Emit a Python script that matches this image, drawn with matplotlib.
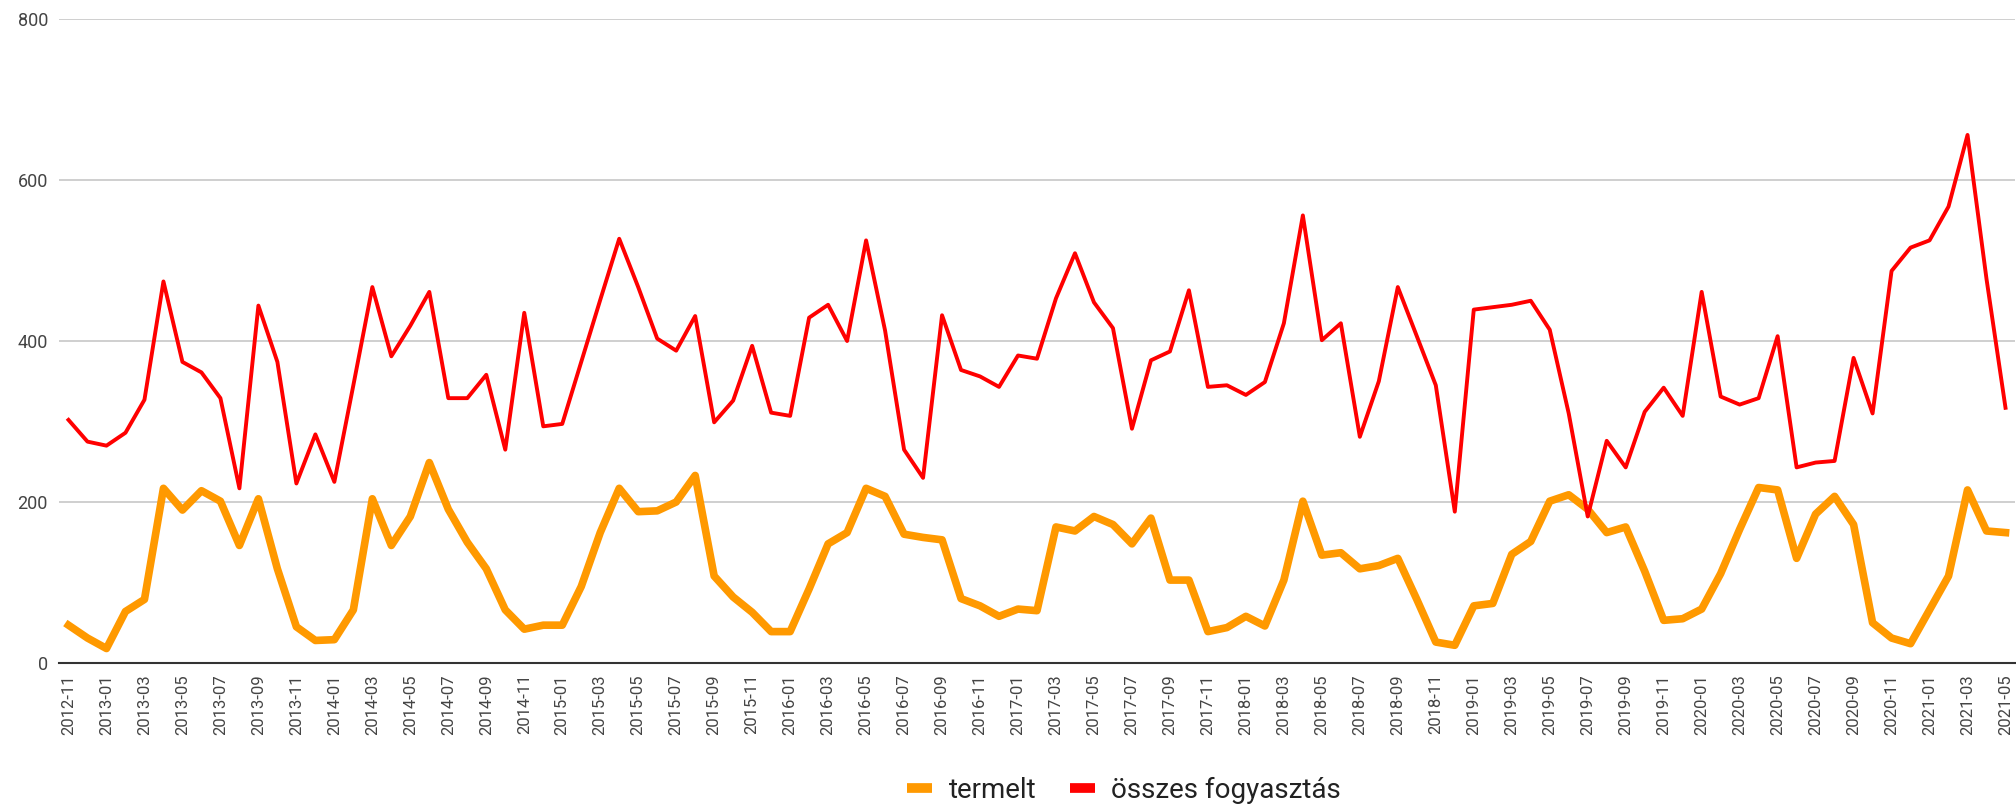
# -*- coding: utf-8 -*-
#%% Monthly production vs. total consumption (line chart)
from matplotlib import pyplot as plt
import numpy as np
import pandas as pd

plt.rcParams['font.family'] = ['Roboto', 'DejaVu Sans']

#%% Data
months = list(pd.period_range('2012-11', '2021-05', freq='M').strftime('%Y-%m'))

termelt = [47, 31,
           18, 64, 79, 217, 190, 214, 201, 146, 204, 117, 45, 28,
           29, 66, 204, 146, 182, 249, 191, 150, 117, 66, 42, 47,
           47, 95, 162, 217, 188, 189, 200, 233, 108, 82, 63, 39,
           39, 92, 148, 162, 217, 207, 160, 156, 153, 80, 71, 58,
           67, 65, 169, 164, 182, 172, 148, 180, 103, 103, 39, 44,
           58, 46, 103, 201, 134, 137, 117, 121, 130, 79, 26, 22,
           71, 74, 135, 151, 201, 209, 191, 162, 169, 114, 53, 55,
           67, 111, 166, 218, 215, 130, 185, 207, 172, 50, 31, 24,
           66, 108, 215, 164, 162]

osszes = [302, 275,
          270, 286, 327, 474, 374, 361, 329, 217, 444, 374, 223, 284,
          225, 345, 467, 381, 419, 461, 329, 329, 358, 265, 435, 294,
          297, 374, 451, 527, 467, 403, 388, 431, 299, 326, 394, 311,
          307, 429, 445, 400, 525, 413, 265, 230, 432, 364, 356, 343,
          382, 378, 453, 509, 448, 416, 291, 376, 387, 463, 343, 345,
          333, 349, 422, 556, 401, 422, 281, 350, 467, 406, 345, 188,
          439, 442, 445, 450, 414, 310, 182, 276, 243, 312, 342, 307,
          461, 331, 321, 329, 406, 243, 249, 251, 379, 310, 487, 516,
          525, 567, 656, 477, 317]

series_names = ['termelt', 'összes fogyasztás']
y_ticks = [0, 200, 400, 600, 800]

#%% Plot
W, H = 2016, 811
fig = plt.figure(figsize=(W / 100, H / 100), dpi=100)
ax = fig.add_axes([59 / W, 1 - 663 / H, (2015 - 59) / W, (663 - 19) / H])

x = np.arange(len(months))
ax.plot(x, termelt, color='#ff9900', lw=5.5, label=series_names[0], zorder=3)
ax.plot(x, osszes, color='#ff0000', lw=2.8, label=series_names[1], zorder=4)

ax.set_xlim(-0.5, len(months) - 0.5)
ax.set_ylim(0, 800)
ax.set_yticks(y_ticks)
ax.set_yticklabels([str(v) for v in y_ticks], fontsize=13, color='#444444')
ax.set_xticks(x[::2])
ax.set_xticklabels(months[::2], rotation=90, fontsize=12, color='#444444')
ax.tick_params(axis='both', length=0)
ax.tick_params(axis='y', pad=8)
ax.tick_params(axis='x', pad=8)

ax.yaxis.grid(True, color='#cccccc', lw=1.3)
ax.set_axisbelow(True)
for s in ['top', 'right', 'left']:
    ax.spines[s].set_visible(False)
ax.spines['bottom'].set_color('#333333')
ax.spines['bottom'].set_linewidth(1.5)

# legend below the chart, short flat handles
leg = fig.legend(loc='center', bbox_to_anchor=(1124 / W, 1 - 790 / H), ncol=2,
                 frameon=False, fontsize=20, handlelength=0.9,
                 handletextpad=0.6, columnspacing=1.2)
for line in leg.get_lines():
    line.set_linewidth(7)
    line.set_solid_capstyle('butt')
for t in leg.get_texts():
    t.set_color('#222222')

fig.savefig('out.png', dpi=100)
